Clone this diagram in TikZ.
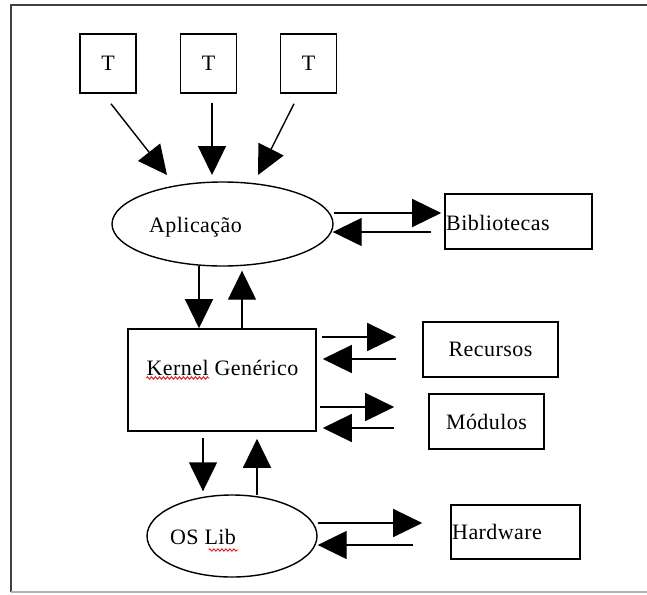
\documentclass[tikz,border=0pt]{standalone}
\usepackage{fontspec}
\setmainfont[LetterSpace=2]{Liberation Serif}
\usetikzlibrary{arrows.meta,shapes.geometric,calc,decorations.pathmorphing}
\begin{document}
\begin{tikzpicture}[x=1pt,y=-1pt,
  box/.style={draw,line width=1.6pt,inner sep=0pt},
  oval/.style={draw,ellipse,line width=1.4pt,inner sep=0pt},
  txt/.style={font=\fontsize{22}{24}\selectfont,inner sep=0pt},
  arr/.style={line width=1.4pt,-{Triangle[length=29pt,width=28pt]}},
  squig/.style={red,line width=0.8pt,decorate,decoration={zigzag,segment length=4pt,amplitude=1.2pt}}]
\useasboundingbox (0,0) rectangle (647,594);
\fill[white] (0,0) rectangle (647,594);
% frame
\draw[line width=2pt,black!75] (11,592) -- (11,5) -- (647,5);
\draw[line width=1.5pt,black!30] (11,592) -- (647,592);
% T boxes
\node[box,txt,minimum width=56pt,minimum height=59pt] (t1) at (108,63.5) {T};
\node[box,txt,minimum width=56pt,minimum height=59pt] (t2) at (208.5,63.5) {T};
\node[box,txt,minimum width=56pt,minimum height=59pt] (t3) at (308.5,63.5) {T};
% Aplicacao
\node[oval,minimum width=221pt,minimum height=84pt] (app) at (222.5,224) {};
\node[txt] (appt) at (195.5,227) {Aplicação};
% Bibliotecas
\node[box,minimum width=147pt,minimum height=55pt] (bib) at (518.5,221.5) {};
\node[txt,anchor=west] (bibt) at (446,223) {Bibliotecas};
% Kernel
\node[box,minimum width=188pt,minimum height=102pt] (ker) at (222,380) {};
\node[txt] (kert) at (222.5,368) {Kernel Genérico};
\node[box,txt,minimum width=135pt,minimum height=55pt] (rec) at (490.5,349.5) {Recursos};
\node[box,txt,minimum width=115pt,minimum height=55pt] (mod) at (486.5,421.5) {Módulos};
% OS Lib
\node[oval,minimum width=170pt,minimum height=82pt] (os) at (232,536) {};
\node[txt] (ost) at (203,537) {OS Lib};
\node[box,minimum width=129pt,minimum height=54pt] (hw) at (515.5,532) {};
\node[txt,anchor=west] (hwt) at (452,532) {Hardware};
% arrows T -> app
\draw[arr] ([shift={(3,10)}]t1.south) -- ([shift={(-55.5,-49)}]app.center);
\draw[arr] ([shift={(3.5,9)}]t2.south) -- ([shift={(-10.5,-49)}]app.center);
\draw[arr] ([shift={(-14.5,10)}]t3.south) -- ([shift={(35.5,-49)}]app.center);
% app <-> bib
\draw[arr] ([shift={(0,-11)}]app.east) -- ([shift={(-3,-8.5)}]bib.west);
\draw[arr] ([shift={(-13,10.5)}]bib.west) -- ([shift={(-1,8)}]app.east);
% app <-> ker
\draw[arr] ([shift={(-23.5,-1)}]app.south) -- ([shift={(-23,0)}]ker.north);
\draw[arr] ([shift={(20,0)}]ker.north) -- ([shift={(19.5,4)}]app.south);
% ker <-> rec
\draw[arr] ([shift={(5,-43)}]ker.east) -- ([shift={(-26,-12.5)}]rec.west);
\draw[arr] ([shift={(-26,9.5)}]rec.west) -- ([shift={(6,-21)}]ker.east);
% ker <-> mod
\draw[arr] ([shift={(3,27)}]ker.east) -- ([shift={(-34,-14.5)}]mod.west);
\draw[arr] ([shift={(-34,6.5)}]mod.west) -- ([shift={(6,48)}]ker.east);
% ker <-> os
\draw[arr] ([shift={(-19,6)}]ker.south) -- ([shift={(-29,-3)}]os.north);
\draw[arr] ([shift={(25,1)}]os.north) -- ([shift={(35,7)}]ker.south);
% os <-> hw
\draw[arr] ([shift={(0,-13)}]os.east) -- ([shift={(-28,-9)}]hw.west);
\draw[arr] ([shift={(-37,13)}]hw.west) -- ([shift={(0,9)}]os.east);
% spell-check squiggles
\draw[squig] ([shift={(0,10)}]kert.west) -- ([shift={(63,10)}]kert.west);
\draw[squig] ([shift={(39,13)}]ost.west) -- ([shift={(68,13)}]ost.west);
\end{tikzpicture}
\end{document}
